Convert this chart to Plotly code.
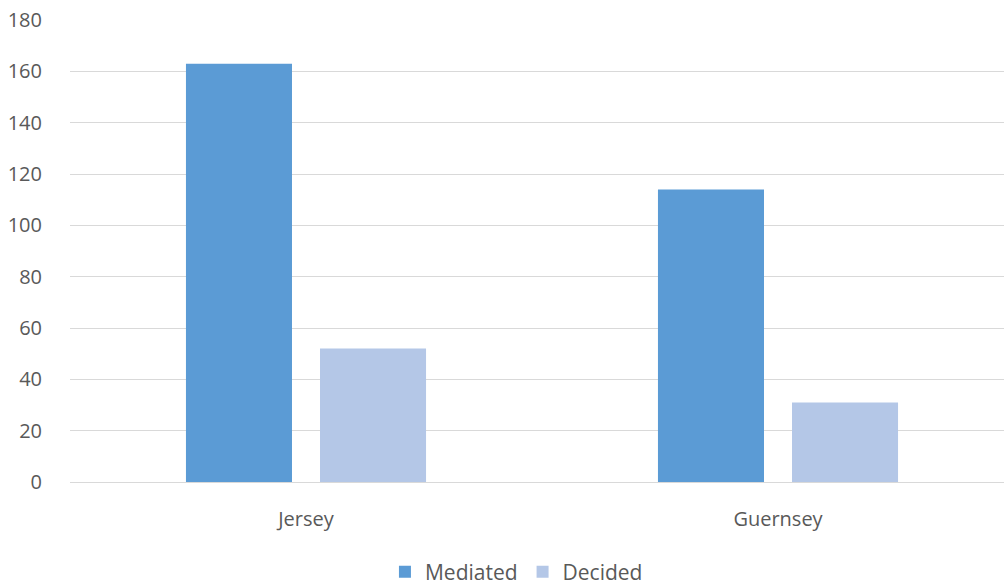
import plotly.graph_objects as go

categories = ["Jersey", "Guernsey"]
mediated = [163, 114]
decided = [52, 31]
y_ticks = [0, 20, 40, 60, 80, 100, 120, 140, 160, 180]

font_family = "Open Sans, Liberation Sans, Arial, sans-serif"
grey = "#595959"

fig = go.Figure()
fig.add_trace(go.Bar(name="Mediated", x=categories, y=mediated, marker=dict(color="#5B9BD5", line=dict(width=0))))
fig.add_trace(go.Bar(name="Decided", x=categories, y=decided, marker=dict(color="#B4C7E7", line=dict(width=0))))

fig.update_layout(
    width=1004, height=586,
    margin=dict(l=70, r=0, t=20, b=104, autoexpand=False),
    paper_bgcolor="white", plot_bgcolor="white",
    barmode="group", bargap=0.432, bargroupgap=0.209,
    font=dict(family=font_family, size=20, color=grey),
    showlegend=True,
    legend=dict(orientation="h", x=0.478, xanchor="center", y=-0.195, yanchor="middle",
                font=dict(size=21, color=grey), itemwidth=30, tracegroupgap=0),
    xaxis=dict(range=[-0.5, 1.4788], showgrid=False, showline=False, ticks="",
               tickfont=dict(size=20, color=grey), ticklabelstandoff=23, automargin=False),
    yaxis=dict(range=[0, 180], tickvals=y_ticks, showgrid=True, gridcolor="#D9D9D9",
               gridwidth=1.3, zeroline=True, zerolinecolor="#D9D9D9", zerolinewidth=1.3,
               showline=False, ticks="", tickfont=dict(size=20, color=grey),
               ticklabelstandoff=27, automargin=False),
)

fig.write_html("out.html")
